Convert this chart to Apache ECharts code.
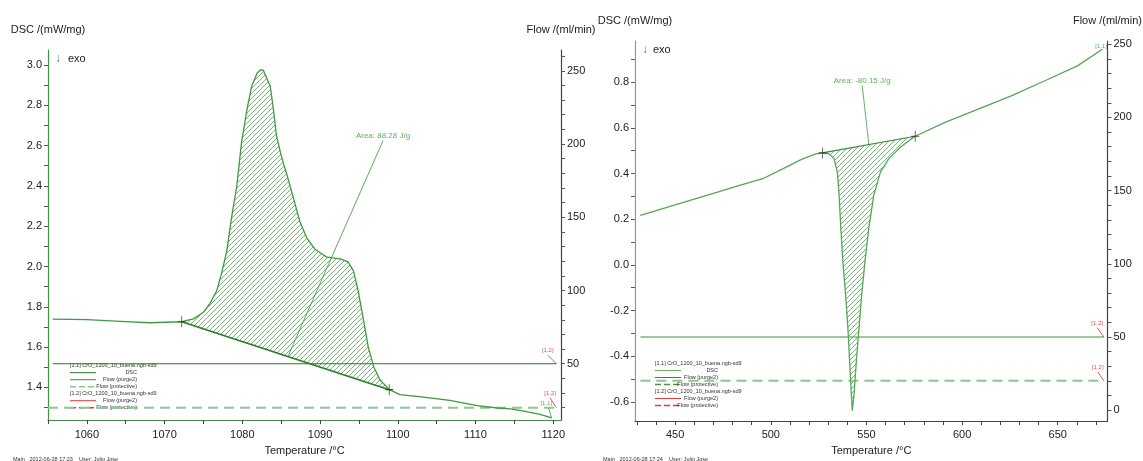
<!DOCTYPE html>
<html><head><meta charset="utf-8">
<script src="https://cdn.jsdelivr.net/npm/echarts@6/dist/echarts.min.js"></script>
<style>html,body{margin:0;padding:0;background:#fff}#c{width:1143px;height:461px}</style>
</head><body><div id="c"></div>
<script>
// ---------- DATA ----------
// Left panel (heating peak)
const leftTemp = [1055.6,1060.0,1065.0,1068.1,1072.2,1073.7,1075.0,1075.8,1076.7,1077.3,1078.0,1078.6,1079.3,1079.9,1080.6,1081.2,1081.9,1082.3,1082.7,1082.9,1083.6,1084.0,1084.4,1084.9,1085.3,1085.7,1086.6,1087.4,1088.3,1089.4,1090.9,1092.6,1093.6,1094.3,1094.9,1095.6,1096.2,1096.9,1097.7,1098.9,1100.3,1103.3,1106.7,1110.2,1112.8,1114.5,1116.2,1118.3,1119.8];
const leftDsc = [1.739,1.736,1.727,1.721,1.726,1.740,1.773,1.814,1.879,1.961,2.076,2.239,2.403,2.616,2.779,2.894,2.959,2.975,2.974,2.967,2.894,2.779,2.648,2.567,2.509,2.460,2.337,2.223,2.141,2.084,2.046,2.038,2.023,1.978,1.880,1.732,1.601,1.503,1.438,1.389,1.364,1.352,1.336,1.310,1.298,1.294,1.282,1.266,1.249];
const leftPeakStart = [1072.2, 1.726];
const leftPeakEnd = [1098.9, 1.389];
const leftAreaLeader = [[1098.1, 2.624], [1085.9, 1.557]];
const leftAreaText = 'Area: 88.28 J/g';
const leftPurgeTemp = [1055.6, 1120.4];
const leftPurge = [50, 50];
const leftProtTemp = [1055.0, 1120.4];
const leftProt = [20, 20];

// Right panel (cooling peak)
const rightTemp = [431.8,449.1,466.5,483.7,495.8,506.2,516.6,523.6,527.0,530.5,533.1,534.8,535.7,536.6,537.7,539.1,540.3,541.2,542.1,542.6,543.5,544.7,546.1,547.5,549.2,551.2,553.8,557.3,561.6,567.7,572.9,575.5,591.1,608.4,625.7,643.0,660.3,673.3];
const rightDsc = [0.217,0.260,0.304,0.348,0.377,0.420,0.464,0.486,0.490,0.486,0.464,0.406,0.304,0.159,0.013,-0.132,-0.277,-0.423,-0.568,-0.638,-0.568,-0.423,-0.277,-0.132,0.013,0.159,0.304,0.406,0.464,0.515,0.548,0.563,0.624,0.682,0.740,0.805,0.871,0.944];
const rightPeakStart = [527.0, 0.490];
const rightPeakEnd = [575.5, 0.563];
const rightAreaLeader = [[547.8, 0.784], [551.2, 0.529]];
const rightAreaText = 'Area: -80.15 J/g';
const rightPurgeTemp = [431.8, 674.1];
const rightPurge = [50, 50];
const rightProtTemp = [431.8, 674.1];
const rightProt = [20, 20];

// Tick labels
const leftXLabels = [1060,1070,1080,1090,1100,1110,1120];
const leftDscLabels = [1.4,1.6,1.8,2.0,2.2,2.4,2.6,2.8,3.0];
const leftFlowLabels = [50,100,150,200,250];
const rightXLabels = [450,500,550,600,650];
const rightDscLabels = [-0.6,-0.4,-0.2,0.0,0.2,0.4,0.6,0.8];
const rightFlowLabels = [0,50,100,150,200,250];

function range(a, b, s) { const r = []; for (let v = a; v <= b + s * 1e-6; v += s) r.push(Math.round(v * 1000) / 1000); return r; }
const leftXTicks = range(1055, 1120, 5);
const leftDscTicks = range(1.3, 3.0, 0.1);
const leftFlowTicks = range(20, 260, 10);
const rightXTicks = range(430, 670, 10);
const rightDscTicks = range(-0.6, 0.9, 0.1);
const rightFlowTicks = range(0, 250, 10);

// ---------- STYLE ----------
const FONT = '"Liberation Sans", Arial, sans-serif';
const pc = document.createElement('canvas'); pc.width = 5; pc.height = 5;
const g = pc.getContext('2d'); g.strokeStyle = '#74ba74'; g.lineWidth = 1;
g.beginPath(); g.moveTo(0, 5); g.lineTo(5, 0); g.moveTo(-1, 1); g.lineTo(1, -1); g.moveTo(4, 6); g.lineTo(6, 4); g.stroke();
const hatch = { image: pc, repeat: 'repeat' };

function zip(a, b) { return a.map((v, i) => [v, b[i]]); }
function fmt(v) { return (Math.abs(v) < 1e-9 ? 0 : v).toFixed(1); }
function plain(v) { return String(v); }

function xAxis(grid, min, max, labels, ticks, color, gap, margin) {
  return { type: 'value', gridIndex: grid, min, max, name: 'Temperature /°C', nameLocation: 'middle', nameGap: gap,
    nameTextStyle: { fontSize: 11, color: '#222', fontFamily: FONT },
    axisLine: { show: true, onZero: false, lineStyle: { color, width: 1.2 } },
    axisTick: { show: true, length: 4, customValues: ticks, lineStyle: { color: '#444' } },
    axisLabel: { fontSize: 11, color: '#222', margin, fontFamily: FONT, customValues: labels, formatter: plain },
    splitLine: { show: false } };
}
function yAxis(grid, pos, min, max, name, labels, ticks, color, formatter) {
  return { type: 'value', gridIndex: grid, position: pos, min, max, name, nameLocation: 'end', nameGap: 15,
    nameTextStyle: { fontSize: 11, color: '#222', fontFamily: FONT, align: 'center' },
    axisLine: { show: true, onZero: false, lineStyle: { color, width: 1.2 } },
    axisTick: { show: true, length: 4, customValues: ticks, lineStyle: { color: '#555' } },
    axisLabel: { fontSize: 11, color: '#222', margin: 6, fontFamily: FONT, customValues: labels, formatter: formatter || plain },
    splitLine: { show: false } };
}
function lineS(xi, yi, data, color, width, type, z) {
  return { type: 'line', xAxisIndex: xi, yAxisIndex: yi, data, symbol: 'none', silent: true, z: z || 3,
    lineStyle: { color, width, type: type || 'solid' } };
}
function hatchS(xi, yi, temps, vals, s, e) {
  return { type: 'custom', xAxisIndex: xi, yAxisIndex: yi, z: 1, silent: true, data: [s],
    renderItem: function (params, api) {
      const pts = [api.coord(s)];
      for (let i = 0; i < temps.length; i++) if (temps[i] > s[0] && temps[i] < e[0]) pts.push(api.coord([temps[i], vals[i]]));
      pts.push(api.coord(e));
      return { type: 'polygon', shape: { points: pts }, style: { fill: hatch, stroke: null } };
    } };
}
function crossS(xi, yi, pts) {
  return { type: 'scatter', xAxisIndex: xi, yAxisIndex: yi, data: pts, silent: true, z: 5,
    symbol: 'path://M5,0 L5,12 M0,6 L10,6', symbolSize: [8, 11],
    itemStyle: { color: 'rgba(0,0,0,0)', borderColor: '#2a2a2a', borderWidth: 1 } };
}
function labelS(xi, yi, pt, text, color, size, offset) {
  return { type: 'scatter', xAxisIndex: xi, yAxisIndex: yi, data: [pt], silent: true, z: 6, symbolSize: 1,
    itemStyle: { color: 'rgba(0,0,0,0)' },
    label: { show: true, formatter: text, position: 'top', distance: 1, offset: offset || [0, 0], color, fontSize: size, fontFamily: FONT } };
}

// legend graphic builder
function legendG(x0, y0, textRight, cols) {
  const out = [];
  const rows = [
    { t: '[1.1] CrO_1200_10_buena.ngb-sd9', head: true },
    { t: 'DSC', c: cols[0], d: false },
    { t: 'Flow (purge2)', c: cols[1], d: false },
    { t: 'Flow (protective)', c: cols[2], d: true },
    { t: '[1.2] CrO_1200_10_buena.ngb-sd9', head: true },
    { t: 'Flow (purge2)', c: '#e23a3a', d: false },
    { t: 'Flow (protective)', c: '#e23a3a', d: true }
  ];
  rows.forEach((r, i) => {
    const y = y0 + i * 7;
    if (r.head) {
      out.push({ type: 'text', left: x0, top: y - 3, style: { text: r.t, fontSize: 5.5, fill: '#333', fontFamily: FONT } });
    } else {
      out.push({ type: 'line', shape: { x1: x0, y1: y, x2: x0 + 26, y2: y }, style: { stroke: r.c, lineWidth: r.d ? 1.6 : 1, lineDash: r.d ? [6, 3] : null } });
      out.push({ type: 'text', x: textRight, y: y, style: { text: r.t, fontSize: 5.5, fill: '#333', fontFamily: FONT, align: 'right', verticalAlign: 'middle' } });
    }
  });
  return out;
}

const option = {
  animation: false,
  backgroundColor: '#fff',
  textStyle: { fontFamily: FONT },
  grid: [
    { left: 48, right: 582, top: 50, bottom: 37, containLabel: false },
    { left: 635, right: 33, top: 41, bottom: 38, containLabel: false }
  ],
  xAxis: [
    xAxis(0, 1055, 1121, leftXLabels, leftXTicks, '#4a8a4a', 19, 9),
    xAxis(1, 429, 676, rightXLabels, rightXTicks, '#444', 18, 8)
  ],
  yAxis: [
    yAxis(0, 'left', 1.238, 3.074, 'DSC /(mW/mg)', leftDscLabels, leftDscTicks, '#3a9a3a', fmt),
    yAxis(0, 'right', 11.5, 264.2, 'Flow /(ml/min)', leftFlowLabels, leftFlowTicks, '#444'),
    yAxis(1, 'left', -0.684, 0.98, 'DSC /(mW/mg)', rightDscLabels, rightDscTicks, '#6ab46a', fmt),
    yAxis(1, 'right', -7.5, 252.2, 'Flow /(ml/min)', rightFlowLabels, rightFlowTicks, '#444')
  ],
  series: [
    // left panel
    hatchS(0, 0, leftTemp, leftDsc, leftPeakStart, leftPeakEnd),
    lineS(0, 1, zip(leftProtTemp, leftProt), '#8fc88f', 2, [10, 6], 2),
    lineS(0, 1, zip(leftPurgeTemp, leftPurge), '#237b23', 1.1, 'solid', 2),
    lineS(0, 0, [leftPeakStart, leftPeakEnd], '#2a7a2a', 1.6, 'solid', 3),
    lineS(0, 0, zip(leftTemp, leftDsc), '#3f9a3f', 1.3, 'solid', 4),
    lineS(0, 0, leftAreaLeader, '#4aa04a', 0.9, 'solid', 4),
    crossS(0, 0, [leftPeakStart, leftPeakEnd]),
    labelS(0, 0, leftAreaLeader[0], leftAreaText, '#3a9a3a', 8, [0, 1]),
    // left annotations
    lineS(0, 1, [[1120.4, 50], [1119.3, 55.9]], '#e03030', 0.8, 'solid', 5),
    labelS(0, 1, [1119.3, 55.9], '[1,2]', '#d03030', 6),
    lineS(0, 1, [[1120.4, 20], [1119.6, 26.6]], '#e03030', 0.8, 'solid', 5),
    labelS(0, 1, [1119.6, 26.6], '[1,2]', '#d03030', 6),
    lineS(0, 0, [[1119.8, 1.249], [1119.4, 1.298]], '#3a9a3a', 0.8, 'solid', 5),
    labelS(0, 0, [1119.1, 1.298], '[1,1]', '#3a9a3a', 6),
    // right panel
    hatchS(1, 2, rightTemp, rightDsc, rightPeakStart, rightPeakEnd),
    lineS(1, 3, zip(rightProtTemp, rightProt), '#8fc88f', 2, [10, 6], 2),
    lineS(1, 3, zip(rightPurgeTemp, rightPurge), '#3d963d', 1.1, 'solid', 2),
    lineS(1, 2, [rightPeakStart, rightPeakEnd], '#3a8a3a', 1.2, 'solid', 3),
    lineS(1, 2, zip(rightTemp, rightDsc), '#55a655', 1.3, 'solid', 4),
    lineS(1, 2, rightAreaLeader, '#55a655', 0.9, 'solid', 4),
    crossS(1, 2, [rightPeakStart, rightPeakEnd]),
    labelS(1, 2, rightAreaLeader[0], rightAreaText, '#3a9a3a', 8, [0, 1]),
    lineS(1, 3, [[674.1, 50], [670.6, 56.4]], '#e03030', 0.8, 'solid', 5),
    labelS(1, 3, [670.6, 56.4], '[1,2]', '#d03030', 6),
    lineS(1, 3, [[674.1, 20], [670.9, 26.0]], '#e03030', 0.8, 'solid', 5),
    labelS(1, 3, [670.9, 26.0], '[1,2]', '#d03030', 6),
    labelS(1, 2, [672.6, 0.944], '[1,1]', '#3a9a3a', 6, [0, 2])
  ],
  graphic: [
    { type: 'text', x: 55, y: 59, style: { text: '↓', fontSize: 12, fill: '#777', verticalAlign: 'middle' } },
    { type: 'text', x: 68, y: 59, style: { text: 'exo', fontSize: 11, fill: '#222', fontFamily: FONT, verticalAlign: 'middle' } },
    { type: 'text', x: 642, y: 50, style: { text: '↓', fontSize: 12, fill: '#777', verticalAlign: 'middle' } },
    { type: 'text', x: 653, y: 50, style: { text: 'exo', fontSize: 11, fill: '#222', fontFamily: FONT, verticalAlign: 'middle' } },
    { type: 'text', x: 13, y: 459, style: { text: 'Main   2012-06-28 17:23    User: Julio Jose', fontSize: 5.5, fill: '#333', fontFamily: FONT, verticalAlign: 'middle' } },
    { type: 'text', x: 603, y: 459, style: { text: 'Main   2012-06-28 17:24    User: Julio Jose', fontSize: 5.5, fill: '#333', fontFamily: FONT, verticalAlign: 'middle' } }
  ].concat(legendG(70, 365.7, 137, ['#1f7a1f', '#2f9a2f', '#8fc88f']))
   .concat(legendG(655, 363.5, 718, ['#6ab46a', '#2f8a2f', '#4f8f4f']))
};

const chart = echarts.init(document.getElementById('c'), null, { renderer: 'canvas' });
chart.setOption(option);
</script>
</body></html>
